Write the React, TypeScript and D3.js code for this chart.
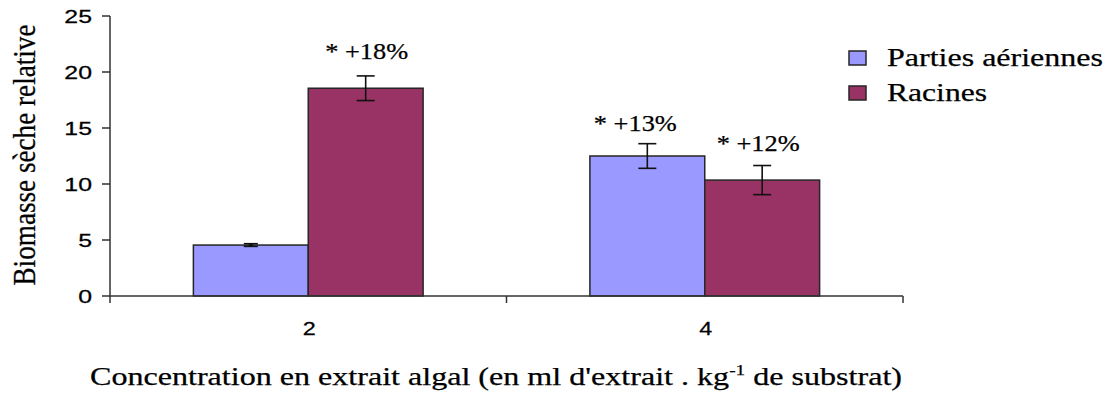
import React from "react";
import * as d3 from "d3";

// Dry biomass relative gain by algal extract concentration
const concentrations = ["2", "4"];
const seriesNames = ["Parties aériennes", "Racines"];
const aerialValues = [4.55, 12.5];
const rootValues = [18.55, 10.35];
const aerialErrors = [0.12, 1.1];
const rootErrors = [1.1, 1.3];
const aerialLabels = ["", "* +13%"];
const rootLabels = ["* +18%", "* +12%"];
const yTicks = [0, 5, 10, 15, 20, 25];

const COLORS = ["#9999ff", "#993366"];
const SERIF = "Liberation Serif";
const SANS = "Liberation Sans";

const W = 1110;
const H = 394;
const left = 110;
const right = 903;
const top = 16;
const bottom = 296;

type STProps = {
  x: number;
  y: number;
  sx?: number;
  rotate?: number;
  anchor?: "start" | "middle" | "end";
  size: number;
  family: string;
  length?: number;
  children: React.ReactNode;
};

function StretchText({ x, y, sx = 1, rotate, anchor = "start", size, family, length, children }: STProps) {
  const tf = `translate(${x},${y}) scale(${sx},1)` + (rotate ? ` rotate(${rotate})` : "");
  return (
    <text
      transform={tf}
      textAnchor={anchor}
      style={{ fontFamily: family, fontSize: size }}
      fill="#000"
      stroke="#000"
      strokeWidth={0.25}
      {...(length ? { textLength: length, lengthAdjust: "spacingAndGlyphs" } : {})}
    >
      {children}
    </text>
  );
}

export default function App() {
  const x0 = d3.scaleBand<string>().domain(concentrations).range([left, right]).padding(0);
  const x1 = d3
    .scaleBand<string>()
    .domain(seriesNames)
    .range([0, x0.bandwidth()])
    .paddingInner(0)
    .paddingOuter(0.726);
  const y = d3.scaleLinear().domain([0, 25]).range([bottom, top]);

  const series = [
    { name: seriesNames[0], values: aerialValues, errors: aerialErrors, labels: aerialLabels },
    { name: seriesNames[1], values: rootValues, errors: rootErrors, labels: rootLabels },
  ];

  // small nudges for the significance labels, per series / group
  const labelDx = [
    [0, -12],
    [1, -4],
  ];
  const labelGap = [
    [14, 13],
    [17, 15],
  ];

  const axisColor = "#333";
  const xTickPositions = [left, ...concentrations.map((c) => (x0(c) as number) + x0.bandwidth())];

  return (
    <svg width={W} height={H} style={{ position: "absolute", left: 0, top: 0, background: "#fff" }}>
      {/* bars */}
      {series.map((s, si) =>
        concentrations.map((c, ci) => {
          const bx = (x0(c) as number) + (x1(s.name) as number);
          const bw = x1.bandwidth();
          return (
            <rect
              key={`${si}-${ci}`}
              x={bx}
              y={y(s.values[ci])}
              width={bw}
              height={y(0) - y(s.values[ci])}
              fill={COLORS[si]}
              stroke="#262626"
              strokeWidth={1.5}
            />
          );
        })
      )}

      {/* error bars */}
      {series.map((s, si) =>
        concentrations.map((c, ci) => {
          const cx = (x0(c) as number) + (x1(s.name) as number) + x1.bandwidth() / 2;
          const hi = y(s.values[ci] + s.errors[ci]);
          const lo = y(s.values[ci] - s.errors[ci]);
          const cw = si === 0 && ci === 0 ? 7 : 9;
          return (
            <g key={`e${si}-${ci}`} stroke="#111" strokeWidth={1.6}>
              <line x1={cx} x2={cx} y1={hi} y2={lo} strokeWidth={si === 0 && ci === 0 ? 4 : 1.6} />
              <line x1={cx - cw} x2={cx + cw} y1={hi} y2={hi} />
              <line x1={cx - cw} x2={cx + cw} y1={lo} y2={lo} />
            </g>
          );
        })
      )}

      {/* significance labels */}
      {series.map((s, si) =>
        concentrations.map((c, ci) => {
          if (!s.labels[ci]) return null;
          const cx = (x0(c) as number) + (x1(s.name) as number) + x1.bandwidth() / 2 + labelDx[si][ci];
          const ty = y(s.values[ci] + s.errors[ci]) - labelGap[si][ci];
          return (
            <StretchText key={`l${si}-${ci}`} x={cx} y={ty} anchor="middle" size={23} family={SERIF} length={83}>
              {s.labels[ci]}
            </StretchText>
          );
        })
      )}

      {/* y axis */}
      <line x1={left} x2={left} y1={top} y2={bottom} stroke={axisColor} strokeWidth={1.5} />
      {yTicks.map((t) => (
        <g key={t}>
          <line x1={left - 8} x2={left} y1={y(t)} y2={y(t)} stroke={axisColor} strokeWidth={1.5} />
          <StretchText x={92} y={y(t) + 6.5} anchor="end" size={18} family={SANS} sx={1.38}>
            {t}
          </StretchText>
        </g>
      ))}

      {/* x axis */}
      <line x1={left} x2={right} y1={bottom} y2={bottom} stroke={axisColor} strokeWidth={1.5} />
      {xTickPositions.map((p, i) => (
        <line key={i} x1={p} x2={p} y1={bottom} y2={bottom + 7} stroke={axisColor} strokeWidth={1.5} />
      ))}
      {concentrations.map((c) => (
        <StretchText
          key={c}
          x={(x0(c) as number) + x0.bandwidth() / 2 + 1}
          y={335}
          anchor="middle"
          size={18}
          family={SANS}
          sx={1.3}
        >
          {c}
        </StretchText>
      ))}

      {/* axis titles */}
      <StretchText x={35} y={155} rotate={-90} anchor="middle" size={27} family={SERIF} sx={1.2} length={261}>
        Biomasse sèche relative
      </StretchText>
      <text
        x={90}
        y={385}
        style={{ fontFamily: SERIF, fontSize: 25 }}
        fill="#000"
        stroke="#000"
        strokeWidth={0.25}
        textLength={812}
        lengthAdjust="spacingAndGlyphs"
      >
        Concentration en extrait algal (en ml d'extrait . kg
        <tspan style={{ fontSize: 15 }} dy={-10}>-1</tspan>
        <tspan dy={10}> de substrat)</tspan>
      </text>

      {/* legend */}
      {seriesNames.map((n, i) => (
        <g key={n}>
          <rect x={849} y={51 + i * 35} width={17} height={14} fill={COLORS[i]} stroke="#262626" strokeWidth={1.5} />
          <StretchText x={887} y={66 + i * 35} size={25} family={SERIF} length={i === 0 ? 216 : 100}>
            {n}
          </StretchText>
        </g>
      ))}
    </svg>
  );
}
